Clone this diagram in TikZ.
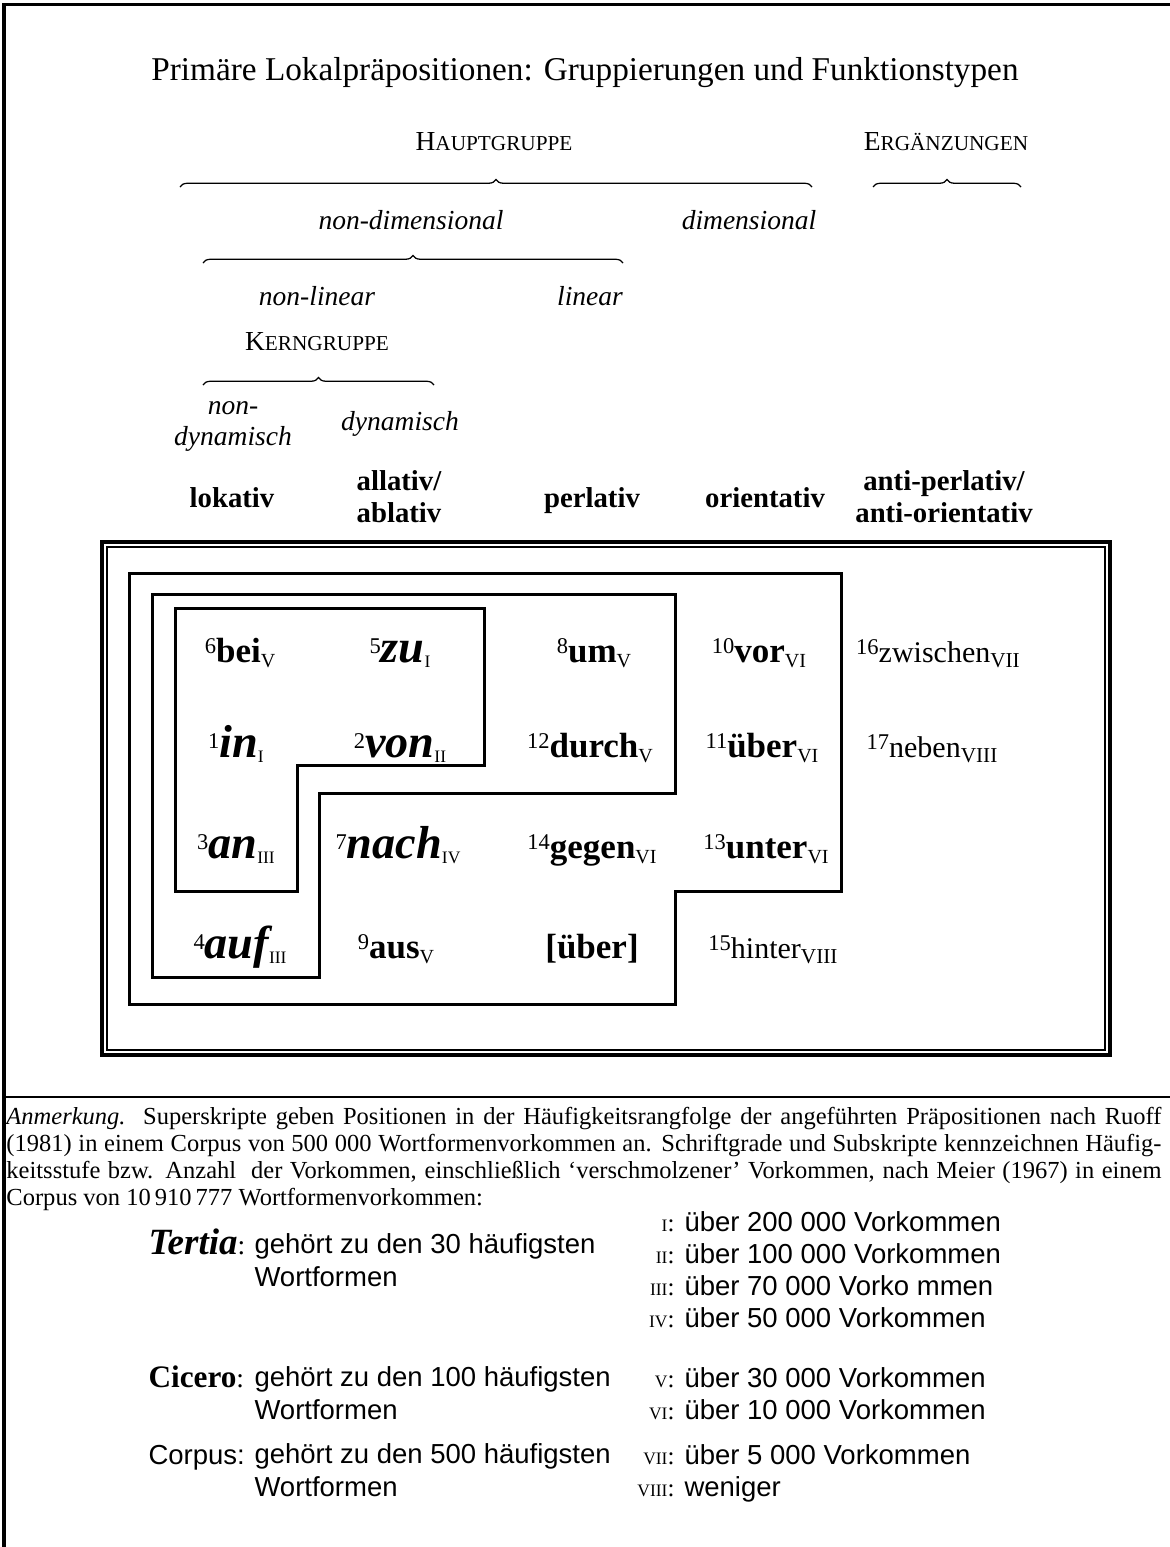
\documentclass[tikz,border=0pt]{standalone}
\usepackage{fontspec}
\setmainfont{Liberation Serif}
\setsansfont{Liberation Sans}
\usetikzlibrary{decorations.pathreplacing,positioning}

% small caps by hand
\newcommand\fsc[2]{#1{\fontsize{8.5}{9}\selectfont #2}}
\newcommand\rn[1]{{\fontsize{7}{7}\selectfont #1}}
% superscript rank and subscript frequency class
\newcommand\rank[2]{\raisebox{#1}{\fontsize{9}{9}\selectfont #2}}
\newcommand\cls[2]{\raisebox{-2.2pt}{\fontsize{#1}{#1}\selectfont #2}}
\newcommand\tertia[3]{\rank{3.5pt}{#1}{\fontsize{18.5}{18.5}\selectfont\bfseries\itshape #2}\cls{7}{#3}}
\newcommand\cicero[3]{\rank{3.5pt}{#1}{\fontsize{14}{14}\selectfont\bfseries #2}\cls{8}{#3}}
\newcommand\corpus[3]{\rank{3pt}{#1}{\fontsize{12}{12}\selectfont #2}\cls{8.5}{#3}}

\begin{document}
\begin{tikzpicture}[x=0.4pt,y=-0.4pt,
    grp/.style={anchor=base,inner sep=0pt,font=\fontsize{11}{13}\selectfont},
    lbl/.style={anchor=base,inner sep=0pt,align=center,font=\fontsize{11}{12.4}\selectfont\itshape},
    colhead/.style={anchor=base,inner sep=0pt,align=center,font=\fontsize{11.5}{12.8}\selectfont\bfseries},
    cell/.style={anchor=base,inner sep=0pt},
    brace/.style={decorate,decoration={brace,amplitude=3pt},line width=0.5pt},
    boxline/.style={line width=1.2pt},
    legtxt/.style={anchor=base west,inner sep=0pt,align=left,font=\sffamily\fontsize{11}{13}\selectfont},
    legnum/.style={anchor=base east,inner sep=0pt}]
  \useasboundingbox (0,0) rectangle (1170,1547);

  % frame and separator
  \draw [line width=1.2pt] (4,1547) -- (4,4) -- (1170,4);
  \draw [line width=1pt] (4,1097) -- (1170,1097);

  \node (title) [anchor=base,font=\fontsize{13.3}{15}\selectfont] at (585,80) {Primäre Lokalpräpositionen: Gruppierungen und Funktionstypen};

  % groupings
  \node (haupt) [grp] at (494,150) {\fsc{H}{AUPTGRUPPE}};
  \node (ergaenz) [grp] at (946,150) {\fsc{E}{RGÄNZUNGEN}};
  \coordinate (haupt-l) at (180,187);
  \coordinate (haupt-r) at (812,187);
  \coordinate (ergaenz-l) at (873,187);
  \coordinate (ergaenz-r) at (1021,187);
  \draw [brace] (haupt-l) -- (haupt-r);
  \draw [brace] (ergaenz-l) -- (ergaenz-r);

  \node (nondim) [lbl] at (411,229) {non-dimensional};
  \node (dim) [lbl] at (749,229) {dimensional};
  \coordinate (nondim-l) at (203,263);
  \coordinate (nondim-r) at (623,263);
  \draw [brace] (nondim-l) -- (nondim-r);

  \node (nonlin) [lbl] at (317,305) {non-linear};
  \node (lin) [lbl] at (590,305) {linear};

  \node (kern) [grp] at (317,350) {\fsc{K}{ERNGRUPPE}};
  \coordinate (kern-l) at (203,385);
  \coordinate (kern-r) at (434,385);
  \draw [brace] (kern-l) -- (kern-r);

  \node (nondyn) [lbl] at (233,445) {non-\\dynamisch};
  \node (dyn) [lbl] at (400,430) {dynamisch};

  % function types
  \node (lokativ) [colhead] at (232,507) {lokativ};
  \node (allativ) [colhead] at (399,522) {allativ/\\ablativ};
  \node (perlativ) [colhead] at (592,507) {perlativ};
  \node (orientativ) [colhead] at (765,507) {orientativ};
  \node (anti) [colhead] at (944,522) {anti-perlativ/\\anti-orientativ};

  % double frame
  \draw [line width=1.3pt] (102,542) rectangle (1110,1055);
  \draw [line width=0.8pt] (107,547) rectangle (1105,1050);
  % groups of prepositions
  \draw [boxline] (129,573) -- (841,573) -- (841,891) -- (675,891) -- (675,1004) -- (129,1004) -- cycle;
  \draw [boxline] (152,594) -- (675,594) -- (675,793) -- (319,793) -- (319,977) -- (152,977) -- cycle;
  \draw [boxline] (175,608) -- (484,608) -- (484,765) -- (297,765) -- (297,891) -- (175,891) -- cycle;

  % row 1
  \node (bei) [cell] at (240,662) {\cicero{6}{bei}{V}};
  \node (zu) [cell] at (400,662) {\tertia{5}{zu}{I}};
  \node (um) [cell] at (594,662) {\cicero{8}{um}{V}};
  \node (vor) [cell] at (759,662) {\cicero{10}{vor}{VI}};
  \node (zwischen) [cell] at (938,662) {\corpus{16}{zwischen}{VII}};
  % row 2
  \node (in) [cell] at (236,757) {\tertia{1}{in}{I}};
  \node (von) [cell] at (400,757) {\tertia{2}{von}{II}};
  \node (durch) [cell] at (590,757) {\cicero{12}{durch}{V}};
  \node (ueber) [cell] at (762,757) {\cicero{11}{über}{VI}};
  \node (neben) [cell] at (932,757) {\corpus{17}{neben}{VIII}};
  % row 3
  \node (an) [cell] at (236,858) {\tertia{3}{an}{III}};
  \node (nach) [cell] at (398,858) {\tertia{7}{nach}{IV}};
  \node (gegen) [cell] at (592,858) {\cicero{14}{gegen}{VI}};
  \node (unter) [cell] at (766,858) {\cicero{13}{unter}{VI}};
  % row 4
  \node (auf) [cell] at (240,958) {\tertia{4}{auf}{III}};
  \node (aus) [cell] at (396,958) {\cicero{9}{aus}{V}};
  \node (ueber2) [cell] at (592,958) {{\fontsize{14}{14}\selectfont\bfseries [über]}};
  \node (hinter) [cell] at (773,958) {\corpus{15}{hinter}{VIII}};

  % note
  \node (note) [anchor=north west,inner sep=0pt,text width=462pt,align=justify,font=\fontsize{9.8}{10.8}\selectfont] at (6,1107) {\textit{Anmerkung.}\ \ Superskripte geben Positionen in der Häufigkeitsrangfolge der angeführten Präpositionen nach Ruoff\linebreak (1981) in einem Corpus von 500~000 Wortformenvorkommen an. Schriftgrade und Subskripte kennzeichnen Häufig-\linebreak keitsstufe bzw. Anzahl\ \ der Vorkommen, einschließlich ‘verschmolzener’ Vorkommen, nach Meier (1967) in einem\linebreak Corpus von 10\,910\,777 Wortformenvorkommen:};

  % legend: font sizes
  \node (tertia) [anchor=base west,inner sep=0pt] at (148,1254) {{\fontsize{14.8}{14.8}\selectfont\bfseries\itshape Tertia}{\fontsize{11}{11}\selectfont :}};
  \node (tertia-txt) [legtxt] at (254,1286) {gehört zu den 30 häufigsten\\Wortformen};
  \node (cicero) [anchor=base west,inner sep=0pt] at (148,1387) {{\fontsize{12.5}{12.5}\selectfont\bfseries Cicero}{\fontsize{11}{11}\selectfont :}};
  \node (cicero-txt) [legtxt] at (254,1419) {gehört zu den 100 häufigsten\\Wortformen};
  \node (corpus) [legtxt] at (148,1464) {Corpus:};
  \node (corpus-txt) [legtxt] at (254,1496) {gehört zu den 500 häufigsten\\Wortformen};

  % legend: frequency classes
  \node (k1) [legnum] at (675,1231) {\rn{I}:};
  \node (k2) [legnum] at (675,1263) {\rn{II}:};
  \node (k3) [legnum] at (675,1295) {\rn{III}:};
  \node (k4) [legnum] at (675,1327) {\rn{IV}:};
  \node (k5) [legnum] at (675,1387) {\rn{V}:};
  \node (k6) [legnum] at (675,1419) {\rn{VI}:};
  \node (k7) [legnum] at (675,1464) {\rn{VII}:};
  \node (k8) [legnum] at (675,1496) {\rn{VIII}:};
  \node (k1-txt) [legtxt] at (684,1231) {über 200~000 Vorkommen};
  \node (k2-txt) [legtxt] at (684,1263) {über 100~000 Vorkommen};
  \node (k3-txt) [legtxt] at (684,1295) {über 70~000 Vorko mmen};
  \node (k4-txt) [legtxt] at (684,1327) {über 50~000 Vorkommen};
  \node (k5-txt) [legtxt] at (684,1387) {über 30~000 Vorkommen};
  \node (k6-txt) [legtxt] at (684,1419) {über 10~000 Vorkommen};
  \node (k7-txt) [legtxt] at (684,1464) {über 5~000 Vorkommen};
  \node (k8-txt) [legtxt] at (684,1496) {weniger};
\end{tikzpicture}
\end{document}
